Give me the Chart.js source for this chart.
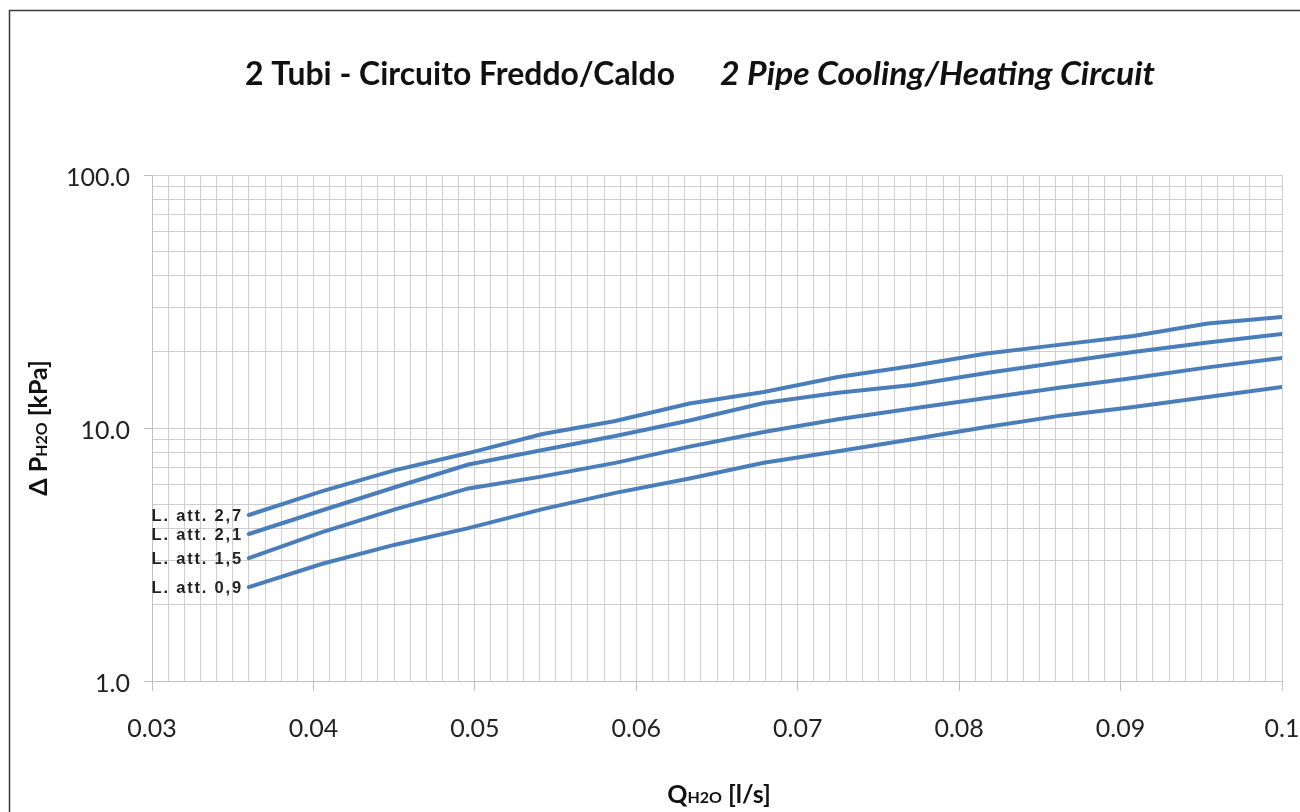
<!DOCTYPE html>
<html>
<head>
<meta charset="utf-8">
<script src="https://cdn.jsdelivr.net/npm/chart.js@4.4.0/dist/chart.umd.min.js"></script>
<style>
html, body { margin: 0; padding: 0; background: #fff; overflow: hidden; }
#wrap { position: absolute; left: 0; top: 0; width: 1340px; height: 812px; }
</style>
</head>
<body>
<div id="wrap"><canvas id="grafico" width="1340" height="812"></canvas></div>
<script>
// Portata acqua [l/s]
const portate = [0.036, 0.0405, 0.045, 0.0496, 0.0542, 0.0587, 0.0633, 0.0679, 0.0725, 0.0771, 0.0817, 0.0863, 0.0908, 0.0954, 0.1];

// Perdite di carico [kPa] per lunghezza attacco
const latt27 = [4.53, 5.62, 6.80, 7.96, 9.47, 10.66, 12.50, 13.88, 15.91, 17.58, 19.70, 21.36, 23.10, 25.88, 27.47];
const latt21 = [3.81, 4.72, 5.82, 7.17, 8.18, 9.30, 10.71, 12.56, 13.79, 14.79, 16.50, 18.20, 19.97, 21.77, 23.52];
const latt15 = [3.06, 3.87, 4.76, 5.77, 6.44, 7.28, 8.44, 9.64, 10.82, 11.95, 13.14, 14.47, 15.76, 17.36, 18.91];
const latt09 = [2.35, 2.90, 3.45, 4.02, 4.78, 5.54, 6.32, 7.29, 8.09, 9.02, 10.10, 11.19, 12.11, 13.25, 14.53];

const etichette = ['L. att. 2,7', 'L. att. 2,1', 'L. att. 1,5', 'L. att. 0,9'];
const serie = [latt27, latt21, latt15, latt09];

// tick
const tickY = [1, 2, 3, 4, 5, 6, 7, 8, 9, 10, 20, 30, 40, 50, 60, 70, 80, 90, 100];
const tickYLabel = [1, 10, 100];
const tickX = [];
for (let i = 30; i <= 100; i++) tickX.push(i / 1000);

const BLU = '#4A7EBB';
const GRIGIO = '#cecece';

// testo adattato a una larghezza data (il font originale e' piu' stretto)
function testoLargo(ctx, txt, x, y, larghezza) {
    const w = ctx.measureText(txt).width;
    ctx.save();
    ctx.translate(x, y);
    ctx.scale(larghezza / w, 1);
    ctx.fillText(txt, 0, 0);
    ctx.restore();
}

// cornice + titoli
const decorazioni = {
    id: 'decorazioni',
    beforeDraw(chart) {
        const ctx = chart.ctx;
        ctx.save();
        ctx.fillStyle = '#fff';
        ctx.fillRect(0, 0, chart.width, chart.height);
        ctx.strokeStyle = '#3a3a3a';
        ctx.lineWidth = 1.5;
        ctx.strokeRect(9.5, 10.5, 1500, 900);
        ctx.restore();
    },
    afterDraw(chart) {
        const ctx = chart.ctx;
        ctx.save();
        ctx.fillStyle = '#111';
        ctx.textBaseline = 'alphabetic';
        ctx.textAlign = 'left';
        ctx.font = 'bold 32px Lato';
        testoLargo(ctx, '2 Tubi - Circuito Freddo/Caldo', 245, 85, 430);
        ctx.font = 'italic bold 32px Lato';
        testoLargo(ctx, '2 Pipe Cooling/Heating Circuit', 720, 85, 435);

        // titolo asse x
        const parti = [['Q', 'bold 25px Lato'], ['H2O', 'bold 16px Lato'], [' [l/s]', 'bold 25px Lato']];
        let w = 0;
        parti.forEach(p => { ctx.font = p[1]; w += ctx.measureText(p[0]).width; });
        let x = 719 - w / 2;
        parti.forEach(p => { ctx.font = p[1]; ctx.fillText(p[0], x, 803); x += ctx.measureText(p[0]).width; });

        // titolo asse y
        const partiY = [['\u0394 P', 'bold 25px Lato'], ['H2O', 'bold 16px Lato'], [' [kPa]', 'bold 25px Lato']];
        ctx.translate(47, 428);
        ctx.rotate(-Math.PI / 2);
        w = 0;
        partiY.forEach(p => { ctx.font = p[1]; w += ctx.measureText(p[0]).width; });
        x = -w / 2;
        partiY.forEach(p => { ctx.font = p[1]; ctx.fillText(p[0], x, 0); x += ctx.measureText(p[0]).width; });
        ctx.restore();
    },
    afterDatasetsDraw(chart) {
        const ctx = chart.ctx;
        ctx.save();
        ctx.fillStyle = '#222';
        ctx.font = 'bold 16.5px "Liberation Sans"';
        ctx.letterSpacing = '1.8px';
        ctx.textAlign = 'right';
        ctx.textBaseline = 'middle';
        chart.data.datasets.forEach((ds, i) => {
            const p = chart.getDatasetMeta(i).data[0];
            ctx.fillText(etichette[i], p.x - 6, p.y + 1);
        });
        ctx.restore();
    }
};

const ctxGrafico = document.getElementById('grafico').getContext('2d');

const grafico = new Chart(ctxGrafico, {
    type: 'line',
    data: {
        datasets: serie.map((valori, i) => ({
            label: etichette[i],
            data: portate.map((q, k) => ({ x: q, y: valori[k] })),
            borderColor: BLU,
            borderWidth: 4,
            borderCapStyle: 'round',
            pointRadius: 0,
            tension: 0,
            fill: false
        }))
    },
    options: {
        responsive: false,
        animation: false,
        devicePixelRatio: 1,
        layout: { padding: { left: 0, top: 175, right: 58, bottom: 0 } },
        plugins: { legend: { display: false }, tooltip: { enabled: false } },
        scales: {
            x: {
                type: 'linear',
                min: 0.03,
                max: 0.1,
                afterBuildTicks: s => { s.ticks = tickX.map(v => ({ value: v })); },
                afterFit: s => { s.height = 812 - 681; },
                ticks: {
                    autoSkip: false,
                    maxRotation: 0,
                    padding: 23,
                    color: '#222',
                    font: { family: 'Lato', size: 25 },
                    callback: v => (Math.round(v * 1000) % 10 === 0 ? String(Math.round(v * 100) / 100) : '')
                },
                grid: {
                    color: GRIGIO,
                    lineWidth: 1,
                    tickLength: 10,
                    tickColor: c => (c.tick && Math.round(c.tick.value * 1000) % 10 === 0 ? '#bfbfbf' : 'rgba(0,0,0,0)')
                },
                border: { color: '#bfbfbf', width: 1 }
            },
            y: {
                type: 'logarithmic',
                min: 1,
                max: 100,
                afterBuildTicks: s => { s.ticks = tickY.map(v => ({ value: v })); },
                afterFit: s => { s.width = 152; },
                ticks: {
                    autoSkip: false,
                    padding: 14,
                    labelOffset: 3,
                    color: '#222',
                    font: { family: 'Lato', size: 25 },
                    callback: v => (tickYLabel.includes(v) ? v.toFixed(1) : '')
                },
                grid: {
                    color: GRIGIO,
                    lineWidth: 1,
                    tickLength: 8,
                    tickColor: c => (c.tick && tickYLabel.includes(c.tick.value) ? '#bfbfbf' : 'rgba(0,0,0,0)')
                },
                border: { color: '#bfbfbf', width: 1 }
            }
        }
    },
    plugins: [decorazioni]
});
</script>
</body>
</html>
